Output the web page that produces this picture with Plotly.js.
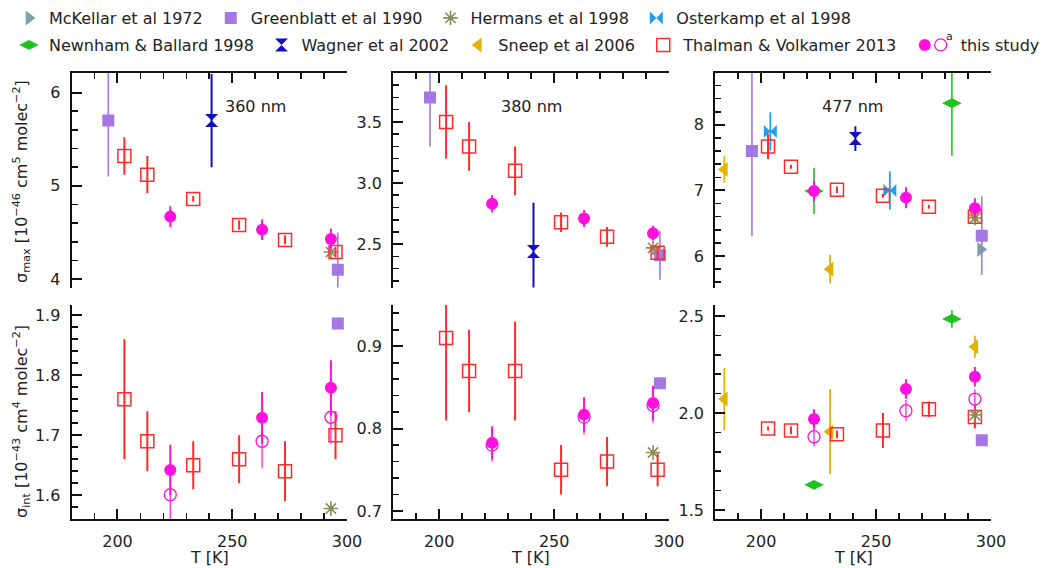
<!DOCTYPE html>
<html><head><meta charset="utf-8">
<script src="https://cdn.plot.ly/plotly-3.0.1.min.js"></script>
<style>html,body{margin:0;padding:0;background:#fff;} #chart{width:1045px;height:568px;}</style>
</head><body><div id="chart"></div>
<script>
// ---------- DATA ----------
// This study (filled = sigma, open = "a" variant)
const T_STUDY = [223, 263, 293];
const STUDY_MAX_360 = [4.67, 4.53, 4.43];
const STUDY_MAX_360_ERR = [0.11, 0.11, 0.11];
const STUDY_MAX_380 = [2.83, 2.71, 2.59];
const STUDY_MAX_380_ERR = [0.07, 0.07, 0.06];
const STUDY_MAX_477 = [6.99, 6.89, 6.73];
const STUDY_MAX_477_ERR = [0.16, 0.16, 0.15];
const STUDY_INT_360 = [1.642, 1.729, 1.779];
const STUDY_INT_360_ERR = [0.042, 0.043, 0.046];
const STUDY_INT_360_A = [1.601, 1.690, 1.730];
const STUDY_INT_360_A_ERR = [0.045, 0.045, 0.044];
const STUDY_INT_380 = [0.783, 0.817, 0.831];
const STUDY_INT_380_ERR = [0.020, 0.021, 0.021];
const STUDY_INT_380_A = [0.780, 0.814, 0.828];
const STUDY_INT_380_A_ERR = [0.020, 0.021, 0.021];
const STUDY_INT_477 = [1.969, 2.124, 2.187];
const STUDY_INT_477_ERR = [0.050, 0.050, 0.050];
const STUDY_INT_477_A = [1.878, 2.012, 2.072];
const STUDY_INT_477_A_ERR = [0.050, 0.055, 0.050];

// Thalman & Volkamer 2013
const T_TV = [203, 213, 233, 253, 273, 295];
const T_TV_477 = [203, 213, 233, 253, 273, 293];
const TV_MAX_360 = [5.32, 5.12, 4.86, 4.58, 4.42, 4.29];
const TV_MAX_360_ERR = [0.20, 0.20, 0.03, 0.05, 0.05, 0.05];
const TV_MAX_380 = [3.50, 3.30, 3.10, 2.68, 2.56, 2.43];
const TV_MAX_380_ERR = [0.30, 0.20, 0.20, 0.08, 0.08, 0.05];
const TV_MAX_477 = [7.67, 7.36, 7.01, 6.92, 6.75, 6.60];
const TV_MAX_477_ERR = [0.19, 0.03, 0.05, 0.03, 0.03, 0.10];
const TV_INT_360 = [1.76, 1.69, 1.65, 1.66, 1.64, 1.70];
const TV_INT_360_ERR = [0.10, 0.05, 0.04, 0.04, 0.05, 0.04];
const TV_INT_380 = [0.91, 0.87, 0.87, 0.75, 0.76, 0.75];
const TV_INT_380_ERR = [0.10, 0.05, 0.06, 0.03, 0.03, 0.02];
const TV_INT_477 = [1.92, 1.91, 1.89, 1.91, 2.02, 1.98];
const TV_INT_477_ERR = [0.01, 0.02, 0.02, 0.09, 0.04, 0.06];

// Greenblatt et al 1990
const T_GB = [196, 296];
const GB_MAX_360 = [5.70, 4.10];
const GB_MAX_360_ERR = [0.6, 0.4];
const GB_MAX_380 = [3.70, 2.41];
const GB_MAX_380_ERR = [0.4, 0.2];
const GB_MAX_477 = [7.60, 6.31];
const GB_MAX_477_ERR = [1.3, 0.6];
const T_GB_INT = [296];
const GB_INT_360 = [1.886];
const GB_INT_380 = [0.855];
const GB_INT_477 = [1.86];

// Hermans et al 1998
const T_HER = [293];
const HER_MAX_360 = [4.29];
const HER_MAX_380 = [2.47];
const HER_MAX_477 = [6.58];
const HER_INT_360 = [1.578];
const HER_INT_380 = [0.771];
const HER_INT_477 = [1.99];

// Wagner et al 2002
const T_WAG = [241];
const WAG_MAX_360 = [5.70];
const WAG_MAX_360_ERR = [0.5];
const WAG_MAX_380 = [2.44];
const WAG_MAX_380_ERR = [0.4];
const WAG_MAX_477 = [7.79];
const WAG_MAX_477_ERR = [0.19];

// Osterkamp et al 1998
const T_OST = [204, 256];
const OST_MAX_477 = [7.90, 7.00];
const OST_MAX_477_ERR = [0.29, 0.29];

// Newnham & Ballard 1998
const T_NB = [223, 283];
const NB_MAX_477 = [6.99, 8.33];
const NB_MAX_477_ERR = [0.35, 0.80];
const NB_INT_477 = [1.63, 2.485];
const NB_INT_477_ERR = [0.0, 0.045];

// Sneep et al 2006
const T_SNP = [184, 230, 293];
const SNP_MAX_477 = [7.32, 5.80, 6.62];
const SNP_MAX_477_ERR = [0.20, 0.22, 0.06];
const SNP_INT_477 = [2.072, 1.904, 2.342];
const SNP_INT_477_ERR = [0.16, 0.22, 0.057];

// McKellar et al 1972
const T_MCK = [295.5];
const MCK_MAX_477 = [6.10];

// Labels
const PANEL_LABELS = ['360 nm', '380 nm', '477 nm'];
const X_TITLE = 'T [K]';
const Y_TITLE_MAX = 'σ<sub>max</sub> [10<sup>−46</sup> cm<sup>5</sup> molec<sup>−2</sup>]';
const Y_TITLE_INT = 'σ<sub>int</sub> [10<sup>−43</sup> cm<sup>4</sup> molec<sup>−2</sup>]';

// ---------- STYLE ----------
const FONT = 'DejaVu Sans, Verdana, sans-serif';
const W = 1045, H = 568;
const S = {
  mck: {name:'McKellar et al 1972', color:'#76a2a8', symbol:'triangle-right', size:13, lw:0, et:1.5, legend:'legend'},
  gb:  {name:'Greenblatt et al 1990', color:'#a477e2', symbol:'square', size:12, lw:0, et:1.6, legend:'legend2'},
  her: {name:'Hermans et al 1998', color:'#8a8a58', symbol:'asterisk-open', size:12, lw:1.6, et:1.5, legend:'legend3'},
  ost: {name:'Osterkamp et al 1998', color:'#1e9ff0', symbol:'bowtie', size:13, lw:0, et:1.8, legend:'legend4'},
  nb:  {name:'Newnham & Ballard 1998', color:'#1ec31e', symbol:'diamond-wide', size:14, lw:0, et:1.6, legend:'legend5'},
  wag: {name:'Wagner et al 2002', color:'#1010c0', symbol:'hourglass', size:13, lw:0, et:2, legend:'legend6'},
  snp: {name:'Sneep et al 2006', color:'#e3b300', symbol:'triangle-left', size:13, lw:0, et:1.8, legend:'legend7'},
  tv:  {name:'Thalman & Volkamer 2013', color:'#ff2a2a', symbol:'square-open', size:13, lw:1.5, et:2, legend:'legend8'},
  sto: {name:'this study', color:'#ff11dd', symbol:'circle-open', size:12, lw:1.3, et:1.2, legend:'legend10'},
  stf: {name:'', color:'#ff11dd', symbol:'circle', size:12, lw:0, et:2, legend:'legend9'}
};
const shown = {};
const traces = [];
function ax(p, k){ return k + (p === 1 ? '' : p); }
function add(key, panel, xs, ys, errs){
  const s = S[key];
  const first = !shown[key];
  shown[key] = true;
  const t = {
    type:'scatter', mode:'markers', x:xs, y:ys,
    xaxis: ax(panel,'x'), yaxis: ax(panel,'y'),
    name: s.name, legend: s.legend, showlegend: first,
    marker:{symbol:s.symbol, size:s.size, color:s.color, line:{color:s.color, width:s.lw}},
    cliponaxis: true, hoverinfo:'x+y+name'
  };
  if (errs) t.error_y = {type:'data', array:errs, visible:true, color:s.color, thickness:s.et, width:0};
  traces.push(t);
}
// Panel 1: sigma_max 360
add('gb', 1, T_GB, GB_MAX_360, GB_MAX_360_ERR);
add('her', 1, T_HER, HER_MAX_360);
add('wag', 1, T_WAG, WAG_MAX_360, WAG_MAX_360_ERR);
add('tv', 1, T_TV, TV_MAX_360, TV_MAX_360_ERR);
add('stf', 1, T_STUDY, STUDY_MAX_360, STUDY_MAX_360_ERR);
// Panel 2: sigma_max 380
add('gb', 2, T_GB, GB_MAX_380, GB_MAX_380_ERR);
add('her', 2, T_HER, HER_MAX_380);
add('wag', 2, T_WAG, WAG_MAX_380, WAG_MAX_380_ERR);
add('tv', 2, T_TV, TV_MAX_380, TV_MAX_380_ERR);
add('stf', 2, T_STUDY, STUDY_MAX_380, STUDY_MAX_380_ERR);
// Panel 3: sigma_max 477
add('mck', 3, T_MCK, MCK_MAX_477);
add('gb', 3, T_GB, GB_MAX_477, GB_MAX_477_ERR);
add('ost', 3, T_OST, OST_MAX_477, OST_MAX_477_ERR);
add('nb', 3, T_NB, NB_MAX_477, NB_MAX_477_ERR);
add('wag', 3, T_WAG, WAG_MAX_477, WAG_MAX_477_ERR);
add('snp', 3, T_SNP, SNP_MAX_477, SNP_MAX_477_ERR);
add('tv', 3, T_TV_477, TV_MAX_477, TV_MAX_477_ERR);
add('her', 3, T_HER, HER_MAX_477);
add('stf', 3, T_STUDY, STUDY_MAX_477, STUDY_MAX_477_ERR);
// Panel 4: sigma_int 360
add('gb', 4, T_GB_INT, GB_INT_360);
add('her', 4, T_HER, HER_INT_360);
add('tv', 4, T_TV, TV_INT_360, TV_INT_360_ERR);
add('sto', 4, T_STUDY, STUDY_INT_360_A, STUDY_INT_360_A_ERR);
add('stf', 4, T_STUDY, STUDY_INT_360, STUDY_INT_360_ERR);
// Panel 5: sigma_int 380
add('gb', 5, T_GB_INT, GB_INT_380);
add('her', 5, T_HER, HER_INT_380);
add('tv', 5, T_TV, TV_INT_380, TV_INT_380_ERR);
add('sto', 5, T_STUDY, STUDY_INT_380_A, STUDY_INT_380_A_ERR);
add('stf', 5, T_STUDY, STUDY_INT_380, STUDY_INT_380_ERR);
// Panel 6: sigma_int 477
add('gb', 6, T_GB_INT, GB_INT_477);
add('nb', 6, T_NB, NB_INT_477, NB_INT_477_ERR);
add('snp', 6, T_SNP, SNP_INT_477, SNP_INT_477_ERR);
add('tv', 6, T_TV_477, TV_INT_477, TV_INT_477_ERR);
add('her', 6, T_HER, HER_INT_477);
add('sto', 6, T_STUDY, STUDY_INT_477_A, STUDY_INT_477_A_ERR);
add('stf', 6, T_STUDY, STUDY_INT_477, STUDY_INT_477_ERR);

// ---------- LAYOUT ----------
const XDOM = [[72/W, 349/W], [395.5/W, 673/W], [719.3/W, 996.7/W]];
const YDOM_TOP = [1 - 287.5/H, 1 - 73/H];
const YDOM_BOT = [1 - 519.3/H, 1 - 305/H];
const YR = [[3.91, 6.21], [2.146, 3.90], [5.52, 8.79], [1.56, 1.917], [0.69, 0.95], [1.452, 2.557]];
const YD = [[1, 0.2, ''], [0.5, 0.1, '.1f'], [1, 0.2, ''], [0.1, 0.02, '.1f'], [0.1, 0.02, '.1f'], [0.5, 0.1, '.1f']];
const tickFont = {family: FONT, size: 16, color: '#222'};
const layout = {
  width: W, height: H, margin: {l:0, r:0, t:0, b:0},
  paper_bgcolor: '#fff', plot_bgcolor: 'rgba(0,0,0,0)',
  font: {family: FONT, size: 16, color: '#222'},
  annotations: [], showlegend: true
};
for (let p = 1; p <= 6; p++) {
  const col = (p - 1) % 3, top = p <= 3;
  layout[ax(p,'xaxis')] = {
    domain: XDOM[col], range: [180, 300], anchor: ax(p,'y'),
    side: top ? 'top' : 'bottom', showticklabels: !top,
    showline: true, linecolor: '#111', linewidth: 2, mirror: false,
    ticks: 'inside', ticklen: 10, tickwidth: 2, tickcolor: '#111',
    tick0: 0, dtick: 50, showgrid: false, zeroline: false,
    minor: {dtick: 10, ticks: 'inside', ticklen: 6, tickwidth: 1.6, tickcolor: '#111', showgrid: false},
    tickfont: tickFont, ticklabelstandoff: 6, fixedrange: true
  };
  layout[ax(p,'yaxis')] = {
    domain: top ? YDOM_TOP : YDOM_BOT, range: YR[p-1], anchor: ax(p,'x'),
    showline: true, linecolor: '#111', linewidth: 2, mirror: false,
    ticks: 'inside', ticklen: 10, tickwidth: 2, tickcolor: '#111',
    tick0: 0, dtick: YD[p-1][0], tickformat: YD[p-1][2], showgrid: false, zeroline: false,
    minor: {dtick: YD[p-1][1], ticks: 'inside', ticklen: 6, tickwidth: 1.6, tickcolor: '#111', showgrid: false},
    tickfont: tickFont, ticklabelstandoff: 6, fixedrange: true
  };
}
// panel labels
const LABEL_X = [257, 534.5, 857.5];
PANEL_LABELS.forEach((t, i) => layout.annotations.push({
  text: t, xref:'paper', yref:'paper', x: LABEL_X[i]/W, y: 1 - 106.7/H,
  xanchor:'center', yanchor:'middle', showarrow:false, font:{family:FONT, size:16, color:'#222'}
}));
// x titles
const XT_X = [210.5, 534, 858];
XT_X.forEach(x => layout.annotations.push({
  text: X_TITLE, xref:'paper', yref:'paper', x: x/W, y: 1 - 557/H,
  xanchor:'center', yanchor:'middle', showarrow:false, font:{family:FONT, size:16, color:'#222'}
}));
// y titles
[[Y_TITLE_MAX, 181], [Y_TITLE_INT, 421]].forEach(([t, yc]) => layout.annotations.push({
  text: t, xref:'paper', yref:'paper', x: 21/W, y: 1 - yc/H, textangle: -90,
  xanchor:'center', yanchor:'middle', showarrow:false, font:{family:FONT, size:16, color:'#222'}
}));
// superscript "a" of the legend's open-circle entry
layout.annotations.push({
  text: 'a', xref:'paper', yref:'paper', x: 955/W, y: 1 - 36/H,
  xanchor:'center', yanchor:'middle', showarrow:false, font:{family:FONT, size:11, color:'#222'}
});
// legends: one per entry, placed like the reference
const LEG = {
  legend:   [49, 18], legend2: [252, 18], legend3: [473, 18], legend4: [680, 18],
  legend5:  [49, 45], legend6: [303, 45], legend7: [501, 45], legend8: [687, 45],
  legend9:  [950, 45], legend10: [966, 45]
};
Object.keys(LEG).forEach(k => {
  const [tx, ty] = LEG[k];
  layout[k] = {
    x: (tx - 40)/W, y: 1 - ty/H, xref:'paper', yref:'paper',
    xanchor:'left', yanchor:'middle', orientation:'h',
    bgcolor:'rgba(0,0,0,0)', borderwidth:0, itemwidth:30,
    font:{family:FONT, size:16, color:'#222'}
  };
});
Plotly.newPlot('chart', traces, layout, {displayModeBar:false, staticPlot:true});
</script>
</body></html>
